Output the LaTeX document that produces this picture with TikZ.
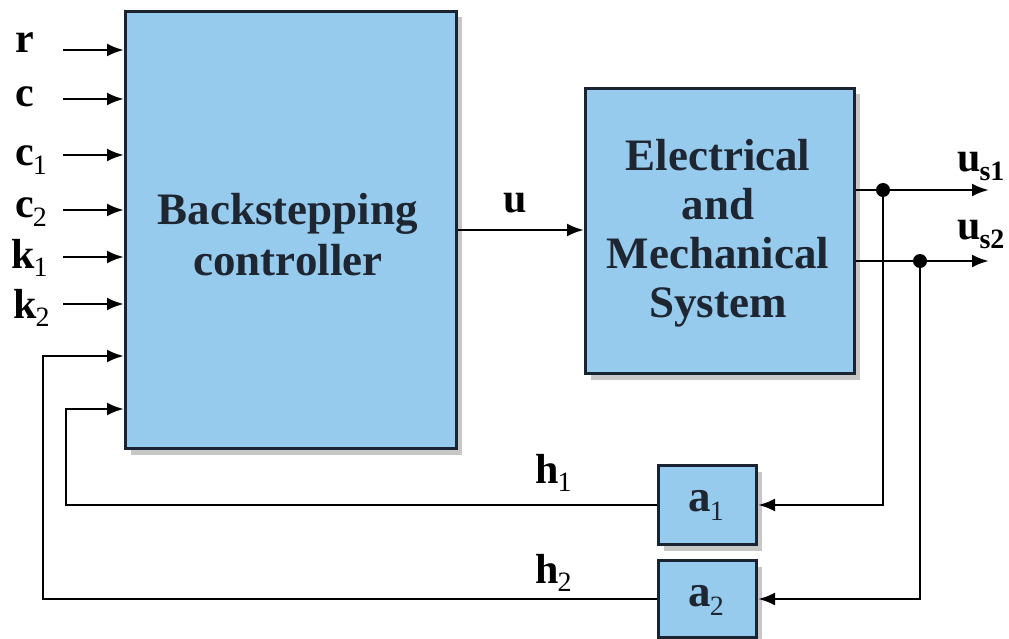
\documentclass[tikz,border=0pt]{standalone}
\usepackage{fontspec}
\setmainfont{Liberation Serif}
\usetikzlibrary{arrows.meta,shadows}
\definecolor{boxblue}{RGB}{151,203,238}
\definecolor{boxline}{RGB}{25,35,50}
\definecolor{txtdark}{RGB}{30,38,50}
\newcommand\lsub[1]{\kern-1pt\raisebox{-0.2em}{\fontsize{28}{28}\selectfont\mdseries #1}}
\newcommand\bsub[1]{\kern-1pt\raisebox{-0.2em}{\fontsize{28}{28}\selectfont #1}}
\begin{document}
\begin{tikzpicture}[x=1pt,y=-1pt,
  blk/.style={draw=boxline,line width=3pt,fill=boxblue,inner sep=0pt,
    drop shadow={shadow xshift=5pt,shadow yshift=-6pt,opacity=0.22,fill=black}},
  big/.style={font=\fontsize{45}{49}\selectfont\bfseries,text=txtdark,align=center,inner sep=0pt},
  lbl/.style={font=\fontsize{42}{46}\selectfont\bfseries,text=black,inner sep=0pt},
  arr/.style={line width=2.8pt,-{Latex[length=17pt,width=13pt]}},
  dot/.style={circle,fill=black,inner sep=0pt,minimum size=14pt}]
\useasboundingbox (0,0) rectangle (1009,639);
% blocks
\node[blk,minimum width=331pt,minimum height=437pt,anchor=north west] (bc) at (124,10) {};
\node[big] (bct) at (288,235) {Backstepping\\[2pt]controller};
\node[blk,minimum width=269pt,minimum height=285pt,anchor=north west] (el) at (584,87) {};
\node[big] (elt) at (718,233) {Electrical\\and\\Mechanical\\System};
\node[blk,minimum width=98pt,minimum height=79pt,anchor=north west] (a1) at (657,464) {};
\node[big] (a1t) at (706,505) {a\lsub{1}};
\node[blk,minimum width=98pt,minimum height=77pt,anchor=north west] (a2) at (657,559) {};
\node[big] (a2t) at (706,600) {a\lsub{2}};
% input labels
\node[lbl,anchor=base west] (lr) at (15,53) {r};
\node[lbl,anchor=base west] (lc) at (15,107) {c};
\node[lbl,anchor=base west] (lc1) at (15,166) {c\lsub{1}};
\node[lbl,anchor=base west] (lc2) at (15,218) {c\lsub{2}};
\node[lbl,anchor=base west] (lk1) at (11,268) {k\lsub{1}};
\node[lbl,anchor=base west] (lk2) at (13,318) {k\lsub{2}};
% input arrows
\foreach \n/\y in {ir/50,ic/99,ic1/155,ic2/210,ik1/257,ik2/304}{
  \coordinate (\n) at (63,\y);
  \draw[arr] (\n) -- (\n -| bc.west);
}
% u
\coordinate (uy) at (520,230);
\draw[arr] (uy -| bc.east) -- (uy -| el.west);
\node[lbl,anchor=base] (lu) at (515,212) {u};
% outputs
\coordinate (o1) at (989,190);
\coordinate (o2) at (989,261);
\draw[arr] (el.east |- o1) -- (o1);
\draw[arr] (el.east |- o2) -- (o2);
\node[dot] (j1) at (883,190) {};
\node[dot] (j2) at (920,261) {};
\node[lbl,anchor=base west] (lus1) at (957,172) {u\bsub{s1}};
\node[lbl,anchor=base west] (lus2) at (957,240) {u\bsub{s2}};
\draw[arr] (j1) |- (a1.east);
\draw[arr] (j2) |- (a2.east);
% feedback
\coordinate (f1) at (66,409);
\coordinate (f2) at (43,356);
\draw[arr] (a1.west) -| (f1) -- (f1 -| bc.west);
\draw[arr] (a2.west) -| (f2) -- (f2 -| bc.west);
\node[lbl,anchor=base west] (lh1) at (535,483) {h\lsub{1}};
\node[lbl,anchor=base west] (lh2) at (535,583) {h\lsub{2}};
\end{tikzpicture}
\end{document}
